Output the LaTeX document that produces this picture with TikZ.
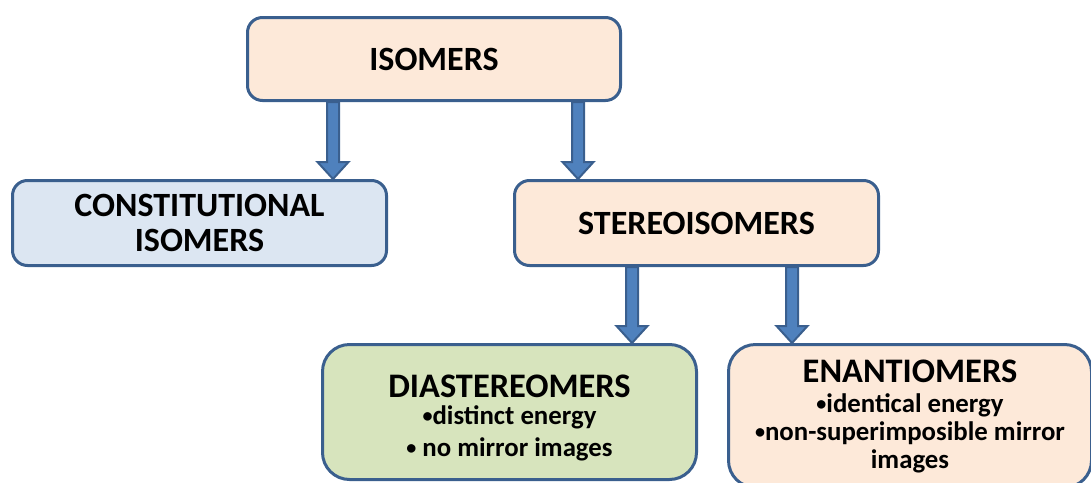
\documentclass[tikz,border=0pt]{standalone}
\usepackage{fontspec}
\setmainfont{Carlito}
\usetikzlibrary{calc}
\definecolor{boxPeach}{HTML}{FDE9D9}
\definecolor{boxBlue}{HTML}{DCE6F2}
\definecolor{boxGreen}{HTML}{D7E4BD}
\definecolor{boxEdge}{HTML}{3A5F8E}
\definecolor{arrowFill}{HTML}{4F81BD}
\newcommand{\bigTitle}[1]{{\fontsize{17.2}{17}\selectfont #1}}
\newcommand{\bul}{\raisebox{0.12ex}{\scalebox{0.75}{•}}}
% block arrow from the bottom of #1 to the top of #2, along the x of #3
\newcommand{\isoArrow}[3]{%
\draw[isoarrow] ($(#1.south -| #3)+(-6,0)$) -- ($(#2.north -| #3)+(-6,-17)$)
  -- ($(#2.north -| #3)+(-15.5,-17)$) -- (#2.north -| #3)
  -- ($(#2.north -| #3)+(15.5,-17)$) -- ($(#2.north -| #3)+(6,-17)$)
  -- ($(#1.south -| #3)+(6,0)$) -- cycle;}

\begin{document}
\begin{tikzpicture}[x=0.5pt,y=-0.5pt,
  isobox/.style={draw=boxEdge,line width=1.5pt,rounded corners=7.5pt,align=center,
    font=\bfseries\fontsize{17}{17.5}\selectfont},
  bigbox/.style={isobox,rounded corners=13.5pt,font=\bfseries\fontsize{13.4}{14}\selectfont},
  isoarrow/.style={draw=boxEdge,fill=arrowFill,line width=1pt,line join=miter}]
\useasboundingbox (0,0) rectangle (1091,482);
\clip (0,0) rectangle (1091,482);
%the boxes
\node[isobox,fill=boxPeach,minimum width=186.5pt,minimum height=41.5pt] (isomers) at (434,59) {ISOMERS};
\node[isobox,fill=boxBlue,minimum width=187pt,minimum height=42.5pt] (constitutional) at (199.5,223) {CONSTITUTIONAL\\ISOMERS};
\node[isobox,fill=boxPeach,minimum width=182pt,minimum height=42.5pt] (stereo) at (696.5,223) {STEREOISOMERS};
\node[bigbox,fill=boxGreen,minimum width=187pt,minimum height=67.5pt] (diastereo) at (509.5,412)
  {\mbox{}\\[3pt]\bigTitle{DIASTEREOMERS}\\[-0.5pt]\bul distinct energy\\[2pt]\bul{} no mirror images};
\node[bigbox,fill=boxPeach,minimum width=181.5pt,minimum height=71.5pt] (enantio) at (910,416)
  {\bigTitle{ENANTIOMERS}\\[1pt]\bul identical energy\\\bul non-superimposible mirror\\images};
%x of the arrows
\coordinate (xa) at (333,0);
\coordinate (xb) at (578,0);
\coordinate (xc) at (632,0);
\coordinate (xd) at (792,0);
%drawings of arrows
\isoArrow{isomers}{constitutional}{xa}
\isoArrow{isomers}{stereo}{xb}
\isoArrow{stereo}{diastereo}{xc}
\isoArrow{stereo}{enantio}{xd}
\end{tikzpicture}
\end{document}
